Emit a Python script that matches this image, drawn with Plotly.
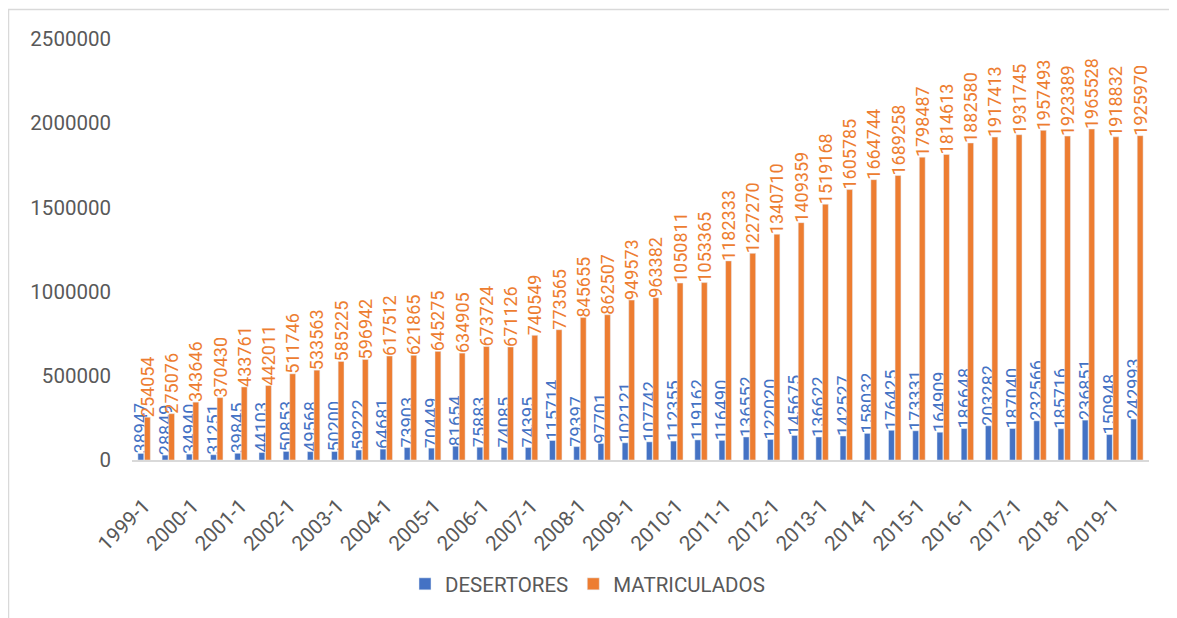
import plotly.graph_objects as go

periodos = [f"{y}-{s}" for y in range(1999, 2020) for s in (1, 2)]
desertores = [38947, 28849, 34940, 31251, 39845, 44103, 50853, 49568, 50200, 59222,
              64681, 73903, 70449, 81654, 75883, 74085, 74395, 115714, 79397, 97701,
              102121, 107742, 112355, 119162, 116490, 136552, 122020, 145675, 136622, 142527,
              158032, 176425, 173331, 164909, 186648, 203282, 187040, 232566, 185716, 236851,
              150948, 242993]
matriculados = [254054, 275076, 343646, 370430, 433761, 442011, 511746, 533563, 585225, 596942,
                617512, 621865, 645275, 634905, 673724, 671126, 740549, 773565, 845655, 862507,
                949573, 963382, 1050811, 1053365, 1182333, 1227270, 1340710, 1409359, 1519168, 1605785,
                1664744, 1689258, 1798487, 1814613, 1882580, 1917413, 1931745, 1957493, 1923389, 1965528,
                1918832, 1925970]
tick_labels = [p for p in periodos if p.endswith("-1")]

FONT = "Roboto"
GRAY = "#595959"
fig = go.Figure()
fig.add_trace(go.Bar(x=periodos, y=desertores, name="DESERTORES", marker_color="#4472C4",
                     text=[str(v) for v in desertores], textposition="outside", textangle=-90,
                     constraintext="none", cliponaxis=False,
                     textfont=dict(color="#4472C4", size=18, family=FONT)))
fig.add_trace(go.Bar(x=periodos, y=matriculados, name="MATRICULADOS", marker_color="#ED7D31",
                     text=[str(v) for v in matriculados], textposition="outside", textangle=-90,
                     constraintext="none", cliponaxis=False,
                     textfont=dict(color="#ED7D31", size=18, family=FONT)))

# page body adds an 8px offset, so the figure is 8px smaller than the window
W, H = 1169, 610
ml, mr, mt, mb = 124, 28, 31, 158
pw, ph = W - ml - mr, H - mt - mb
fig.update_layout(
    width=W, height=H,
    margin=dict(l=ml, r=mr, t=mt, b=mb),
    paper_bgcolor="white", plot_bgcolor="white",
    barmode="group", bargap=0.46, bargroupgap=0.1,
    font=dict(family=FONT, color=GRAY, size=20),
    legend=dict(orientation="h", x=(397 - ml) / pw, xanchor="left",
                y=(ph + mt - 576) / ph, yanchor="middle",
                font=dict(size=20.5, color=GRAY)),
    xaxis=dict(type="category", tickmode="array", tickvals=tick_labels, ticktext=tick_labels,
               tickangle=-45, showgrid=False, showline=True, linecolor="#D9D9D9", linewidth=1.5,
               ticks="", ticklabelstandoff=24, tickfont=dict(size=20.5, color=GRAY)),
    yaxis=dict(range=[0, 2500000], tickvals=[0, 500000, 1000000, 1500000, 2000000, 2500000],
               tickformat="d", showgrid=False, zeroline=False, showline=False,
               ticklabelstandoff=20, tickfont=dict(size=20.5, color=GRAY)),
    shapes=[dict(type="rect", xref="paper", yref="paper",
                 x0=(0.5 - ml) / pw, x1=(W + 20 - ml) / pw,
                 y0=(ph + mt - (H + 20)) / ph, y1=(ph + mt - 1.5) / ph,
                 line=dict(color="#D9D9D9", width=1.5), layer="below")],
)
fig.write_html("out.html")
